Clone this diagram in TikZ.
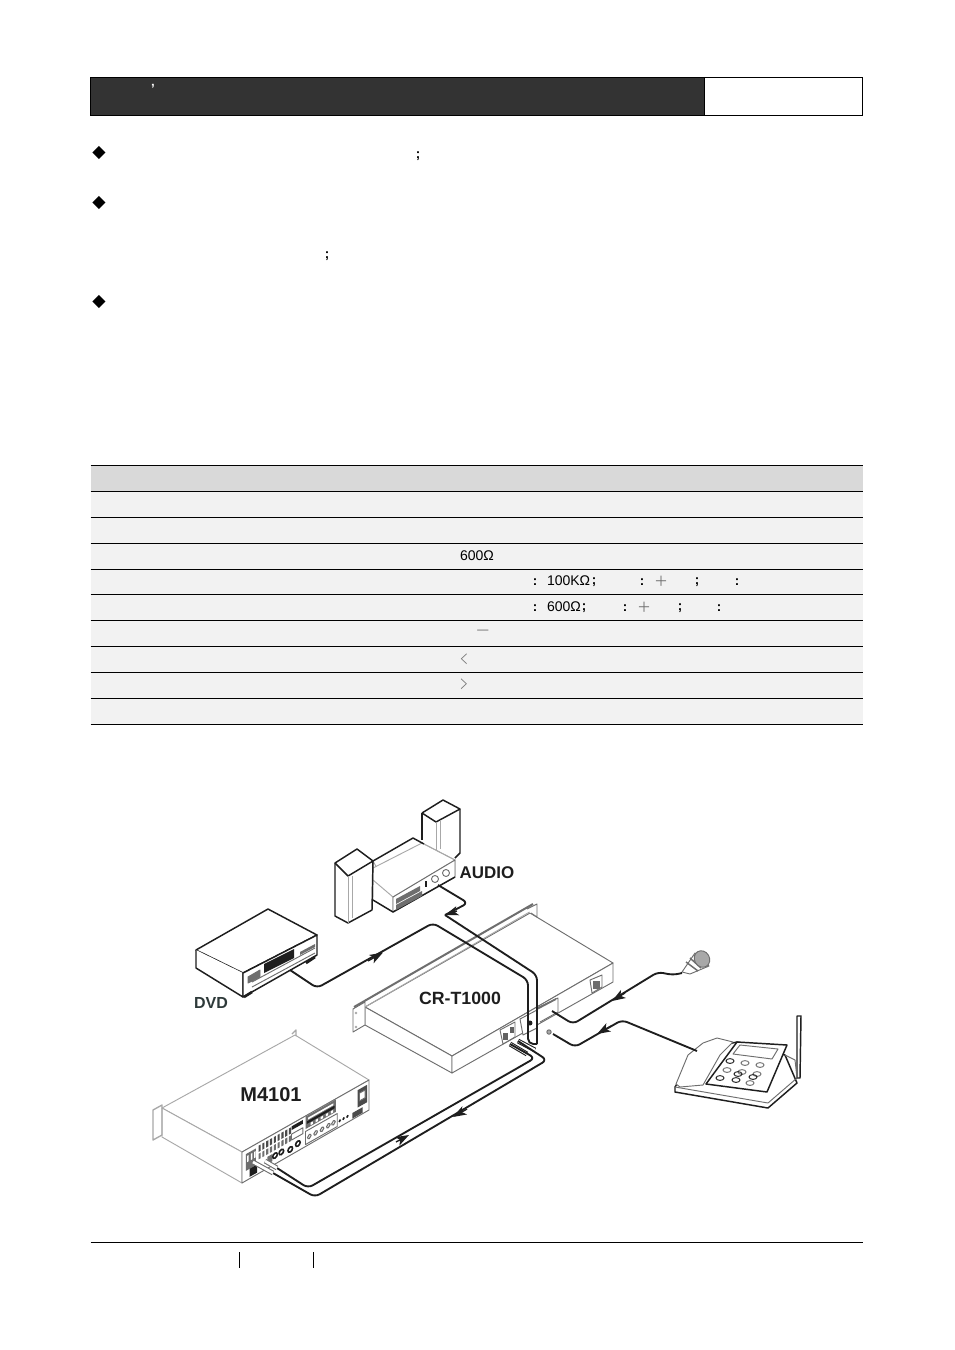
\documentclass[tikz,border=0pt]{standalone}
\usepackage{fontspec}
\setmainfont{Liberation Sans}
\newfontfamily\cjkf{Noto Sans CJK SC}[Scale=1]
\newfontfamily\djv{DejaVu Sans}
\usetikzlibrary{arrows.meta}
\definecolor{hdr}{HTML}{333333}
\definecolor{rowg}{HTML}{F2F2F2}
\definecolor{headg}{HTML}{D9D9D9}
\definecolor{ink}{HTML}{1E1E1E}
\definecolor{edgeg}{HTML}{A8A8A8}
\definecolor{midg}{HTML}{6E6E6E}
\definecolor{lblg}{HTML}{2E3A3A}
\tikzset{
 txt/.style={inner sep=0pt,outer sep=0pt,font=\fontsize{10.5pt}{12pt}\selectfont,text=black},
 punct/.style={inner sep=0pt,outer sep=0pt,font=\bfseries\fontsize{10pt}{12pt}\selectfont,text=black},
 thin glyph/.style={inner sep=0pt,outer sep=0pt,font=\cjkf\fontsize{10.5pt}{12pt}\selectfont,text=midg},
 bullet/.style={inner sep=0pt,outer sep=0pt,font=\djv\fontsize{13pt}{14pt}\selectfont},
 rule/.style={line width=.75pt,draw=black},
 cable/.style={line width=1.4pt,draw=ink,rounded corners=4pt,line join=round},
 tip/.style={line width=1pt,draw=ink,-{Stealth[length=10pt,width=7pt,inset=2.5pt]}},
 devline/.style={line width=1.1pt,draw=ink,line join=round},
 greyline/.style={line width=.7pt,draw=midg,line join=round},
 paleline/.style={line width=.7pt,draw=edgeg,line join=round},
 lbl/.style={inner sep=0pt,outer sep=0pt,text=ink,font=\bfseries\fontsize{12.7pt}{14pt}\selectfont},
}
\begin{document}
\begin{tikzpicture}[x=.75pt,y=-.75pt]
\useasboundingbox (0,0) rectangle (954,1350);
\fill[white] (0,0) rectangle (954,1350);

% header
\draw[rule,fill=hdr] (90.5,77.5) rectangle (704.5,115.5);
\draw[rule,fill=white] (704.5,77.5) rectangle (862.5,115.5);
\node[punct,text=white] (hq) at (153,89) {’};

% bullets and stray punctuation
\node[bullet] (b1) at (99,153) {◆};
\node[bullet] (b2) at (99,203) {◆};
\node[bullet] (b3) at (99,302) {◆};
\node[punct] (s1) at (418,156) {;};
\node[punct] (s2) at (327,256.5) {;};

% table
\fill[headg] (90.5,465.5) rectangle (862.5,491.5);
\fill[rowg] (90.5,491.5) rectangle (862.5,724.5);
\foreach \yy in {465.5,491.5,517.5,543.5,569.5,594.5,620.5,646.5,672.5,698.5,724.5}
  \draw[rule] (90.5,\yy) -- (862.5,\yy);

\node[txt,anchor=west] (r3a) at (460,556) {600Ω};
\node[punct] (r4a) at (535,582) {:};
\node[txt,anchor=west] (r4b) at (547,581) {100KΩ};
\node[punct] (r4c) at (594,582) {;};
\node[punct] (r4d) at (642,582) {:};
\node[thin glyph] (r4e) at (661,581) {＋};
\node[punct] (r4f) at (697,582) {;};
\node[punct] (r4g) at (737,582) {:};
\node[punct] (r5a) at (535,608) {:};
\node[txt,anchor=west] (r5b) at (547,607) {600Ω};
\node[punct] (r5c) at (584,608) {;};
\node[punct] (r5d) at (625,608) {:};
\node[thin glyph] (r5e) at (644,607) {＋};
\node[punct] (r5f) at (680,608) {;};
\node[punct] (r5g) at (719,608) {:};
\node[thin glyph] (r6a) at (483,632) {—};
\node[thin glyph,xscale=.55] (r7a) at (464,659) {＜};
\node[thin glyph,xscale=.55] (r8a) at (464,684) {＞};

% footer
\draw[rule] (90.5,1242.5) -- (862.5,1242.5);
\draw[rule] (239.5,1252) -- (239.5,1268);
\draw[rule] (313.5,1252) -- (313.5,1268);

% ===== speakers + amplifier =====
\draw[paleline,fill=white] (373,861) -- (393,897) -- (393,912) -- (373,900) -- cycle;
\draw[paleline,fill=white] (373,880) -- (393,897) -- (455,860) -- (422,843) -- (373,868) -- cycle;
\draw[devline] (373,861) -- (413,838) -- (424,844);
\draw[paleline] (424,844) -- (455,860) -- (455,877);
\draw[greyline,fill=white] (393,897) -- (455,860) -- (455,877) -- (393,912) -- cycle;
\draw[devline] (373,900) -- (393,912) -- (455,877);
\fill[midg] (396,899) -- (420,886) -- (420,891) -- (396,904) -- cycle;
\fill[midg] (396,905) -- (422,891) -- (422,896) -- (396,910) -- cycle;
\draw[ink,line width=1pt] (426,881) -- (426,887);
\draw[greyline] (435,879) circle[radius=3.5];
\draw[greyline] (446,873) circle[radius=3.5];
% left speaker
\draw[devline,fill=white] (335,863) -- (357,849) -- (373,861) -- (372,910) -- (348,923) -- (335,916) -- cycle;
\draw[devline] (335,863) -- (348,876) -- (373,861);
\draw[paleline] (348,876) -- (348,923);
\draw[paleline] (352,876) -- (352,918);
% right speaker
\draw[devline,fill=white] (422,813) -- (443,800) -- (460,809) -- (460,853) -- (455,858);
\draw[devline] (422,813) -- (422,840);
\draw[devline] (422,813) -- (436,822) -- (460,809);
\draw[paleline] (436,822) -- (436,851);
\draw[paleline] (440,820) -- (440,849);
\node[lbl] (audio) at (487,873) {AUDIO};

% ===== DVD =====
\draw[devline,fill=white] (196,950) -- (268,909) -- (317,935) -- (243,973) -- cycle;
\draw[devline,fill=white] (196,950) -- (196,968) -- (243,997) -- (243,973);
\draw[devline,fill=white] (243,973) -- (317,935) -- (317,955) -- (243,997) -- cycle;
\fill[ink] (264,964) -- (294,949) -- (294,958) -- (264,973) -- cycle;
\draw[greyline] (252,987) -- (315,953);
\draw[greyline] (252,982) -- (315,948);
\draw[greyline,fill=midg] (248,977) -- (260,970) -- (260,977) -- (248,983) -- cycle;
\fill[midg] (300,952) -- (315,944) -- (315,947) -- (300,955) -- cycle;
\draw[ink,line width=2pt] (244,997) -- (252,992);
\draw[ink,line width=2pt] (306,963) -- (315,957);
\node[lbl,text=lblg,font=\bfseries\fontsize{12pt}{14pt}\selectfont] (dvd) at (211,1003) {DVD};

% ===== CR-T1000 =====
\draw[greyline,fill=white] (365,1007) -- (530,913) -- (613,963) -- (452,1056) -- cycle;
\draw[greyline,fill=white] (365,1007) -- (365,1025) -- (452,1073) -- (452,1056) -- cycle;
\draw[greyline,fill=white] (452,1056) -- (613,963) -- (613,982) -- (452,1073) -- cycle;
\draw[greyline,fill=white] (353,1009) -- (365,1002) -- (365,1025) -- (353,1032) -- cycle;
\draw[line width=1.5pt,draw=midg] (354,1007) -- (533,904);
\draw[paleline] (365,1007) -- (533,910);
\draw[greyline,fill=white] (527,909) -- (537,904) -- (537,917) -- (531,913);
\fill[edgeg] (356,1013) circle[radius=1.3];
\fill[edgeg] (356,1027) circle[radius=1.3];
% mains socket
\draw[greyline,fill=white] (590,980) -- (602,975) -- (602,987) -- (592,993) -- cycle;
\fill[midg] (593,981) rectangle (600,989);
% rear sockets
\draw[greyline,fill=white] (537,1008) -- (558,998) -- (558,1012) -- (540,1022);
\fill[midg] (537,1008) -- (556,998) -- (556,1000) -- (537,1010) -- cycle;
\draw[greyline,fill=white] (520,1019) -- (537,1010) -- (537,1028) -- (523,1035) -- cycle;
\fill[ink] (530,1023) circle[radius=2.5];
\draw[greyline,fill=white] (500,1030) -- (515,1022) -- (515,1037) -- (503,1044) -- cycle;
\fill[ink!70] (503,1033) rectangle (508,1040);
\fill[ink!70] (510,1027) rectangle (514,1033);
\node[lbl,font=\bfseries\fontsize{13.3pt}{15pt}\selectfont] (crt) at (460,998) {CR-T1000};

% ===== M4101 =====
\draw[paleline,fill=white] (162,1108) -- (295,1035) -- (369,1080) -- (242,1152) -- cycle;
\draw[paleline,fill=white] (162,1108) -- (162,1137) -- (242,1183) -- (242,1152) -- cycle;
\draw[paleline,line width=1pt] (153,1110) -- (162,1105) -- (162,1135) -- (153,1140) -- cycle;
\draw[paleline,line width=1pt] (292,1034) -- (296,1030) -- (296,1036);
\draw[greyline,fill=white] (242,1152) -- (369,1080) -- (369,1110) -- (242,1183) -- cycle;
\begin{scope}[cm={95.25,54,0,-23.25,(242,1152)},x=1pt,y=1pt]
 % left connector block
 \fill[midg] (.03,.14) rectangle (.11,.68);
 \foreach \ss in {.04,.07,.095}{ \fill[white] (\ss,.22) rectangle ++(.012,.2); }
 \fill[ink] (.06,.68) rectangle (.12,.94);
 % screw terminal row
 \foreach \ss in {.13,.16,.19,.22,.25,.28,.31,.34,.37}{
   \fill[ink!80] (\ss,.1) rectangle ++(.017,.2);
   \fill[midg] (\ss,.36) rectangle ++(.017,.18);
 }
 % jacks
 \fill[midg] (.2,.62) rectangle (.24,.85);
 \foreach \ss/\tt in {.26/.72,.31/.72,.38/.8,.44/.75}{
   \draw[ink,line width=1.2pt,fill=white] (\ss,\tt) ellipse[x radius=.018,y radius=.08];
 }
 \draw[greyline,fill=white] (.39,.33) rectangle (.48,.52);
 \fill[ink] (.39,.08) rectangle (.48,.2);
 % terminal block
 \fill[midg] (.5,.02) rectangle (.74,.42);
 \fill[white] (.52,.1) rectangle (.72,.16);
 \fill[ink] (.51,.2) rectangle (.73,.28);
 \foreach \ss in {.54,.58,.62,.66,.7}{ \fill[white] (\ss,.31) rectangle ++(.018,.08); }
 % knobs
 \draw[greyline] (.5,.5) rectangle (.75,.92);
 \foreach \ss in {.53,.58,.63,.68,.72}{
   \draw[midg,line width=.8pt] (\ss,.73) ellipse[x radius=.014,y radius=.065];
 }
 \foreach \ss in {.77,.8,.83}{ \fill[ink] (\ss,.78) ellipse[x radius=.011,y radius=.05]; }
 \fill[ink!80] (.87,.76) rectangle (.95,.94);
 % socket
 \fill[ink!80] (.91,.12) rectangle (.985,.68);
 \draw[greyline,fill=white] (.925,.25) rectangle (.97,.5);
\end{scope}
\node[lbl,font=\bfseries\fontsize{15pt}{17pt}\selectfont] (mfb) at (271,1095) {M4101};

% ===== microphone =====
\draw[greyline,fill=white] (695,953) -- (709,966) -- (690,974) -- (682,972) -- cycle;
\draw[midg,line width=1.1pt] (686,962) -- (698,971);
\draw[midg,line width=1.1pt] (690,958) -- (701,968);
\draw[midg,line width=1.1pt] (694,955) -- (705,965);
\draw[line width=.7pt,draw=midg,fill=edgeg] (702,959) ellipse[x radius=7.5,y radius=8.5,rotate=30];

% ===== telephone =====
\draw[devline,fill=white] (675,1087) -- (675,1092) -- (768,1108) -- (797,1083) -- (785,1055) -- (737,1042) -- (700,1050) -- cycle;
\draw[greyline] (675,1087) -- (768,1103) -- (797,1078);
\draw[greyline,fill=white] (703,1043) -- (717,1038) -- (733,1042) -- (720,1055) -- (703,1085) -- (680,1087) -- (676,1084) -- (688,1055) -- cycle;
\draw[devline,fill=white] (737,1042) -- (787,1045) -- (767,1092) -- (706,1084) -- cycle;
\draw[greyline,fill=white] (740,1045) -- (778,1049) -- (772,1059) -- (733,1054) -- cycle;
\foreach \bx/\by/\bc in {730/1061/ink,745/1063/midg,760/1065/midg,727/1070/midg,742/1072/midg,757/1074/midg,720/1078/ink,736/1080/ink,753/1077/ink,750/1083/midg,738/1074/ink}
  \draw[\bc,line width=.7pt] (\bx,\by) ellipse[x radius=4,y radius=2.4];
\draw[devline,fill=white] (797,1016) -- (801,1016) -- (800,1078) -- (797,1078) -- cycle;
\draw[greyline] (785,1055) -- (795,1060) -- (797,1078);

% ===== cable end points =====
\coordinate (dvdOut) at (290,970);
\coordinate (dvdA) at (317,988);
\coordinate (dvdB) at (433,923);
\coordinate (dvdC) at (528,980);
\coordinate (dvdD) at (528,1044);
\coordinate (audIn) at (438,885);
\coordinate (audA) at (468,903);
\coordinate (audB) at (445,915);
\coordinate (audC) at (537,975);
\coordinate (audD) at (537,1044);
\coordinate (micOut) at (682,973);
\coordinate (micA) at (673,975);
\coordinate (micB) at (658,972);
\coordinate (micC) at (573,1024);
\coordinate (micD) at (552,1011);
\coordinate (telOut) at (697,1051);
\coordinate (telA) at (622,1020);
\coordinate (telB) at (575,1047);
\coordinate (telC) at (553,1034);
\coordinate (mA) at (510,1044);
\coordinate (mB) at (535,1058);
\coordinate (mC) at (308,1188);
\coordinate (mD) at (277,1168);
\coordinate (mE) at (265,1161);
\coordinate (nA) at (518,1041);
\coordinate (nB) at (547,1060);
\coordinate (nC) at (315,1197);
\coordinate (nD) at (273,1173);
\coordinate (nE) at (253,1162);

% plug sleeves
\draw[line width=3.6pt,draw=ink] (mA) -- (527,1054);
\draw[line width=2pt,draw=white] (mA) -- (527,1054);
\draw[line width=3.6pt,draw=ink] (nA) -- (535,1050);
\draw[line width=2pt,draw=white] (nA) -- (535,1050);

% cables
\draw[cable] (dvdOut) -- (dvdA) -- (dvdB) -- (dvdC) -- (dvdD) -- (audD);
\draw[cable] (audIn) -- (audA) -- (audB);
\draw[cable] (audB) -- (audC) -- (audD);
\draw[cable] (micOut) -- (micA) -- (micB) -- (micC) -- (micD);
\draw[cable] (telOut) -- (telA) -- (telB) -- (telC);
\draw[cable] (mA) -- (mB) -- (mC) -- (mD);
\draw[cable] (nA) -- (nB) -- (nC) -- (nD);
\draw[line width=3.6pt,draw=midg] (mD) -- (mE);
\draw[line width=2pt,draw=white] (mD) -- (mE);
\draw[line width=3.6pt,draw=midg] (nD) -- (nE);
\draw[line width=2pt,draw=white] (nD) -- (nE);
\draw[greyline,fill=edgeg] (549,1032) circle[radius=2.2];

% arrowheads on cables
\coordinate (t1a) at (368,961); \coordinate (t1b) at (383,952.5);
\coordinate (t2a) at (457,911); \coordinate (t2b) at (445,915);
\coordinate (t3a) at (396,1142); \coordinate (t3b) at (409,1135);
\coordinate (t4a) at (467,1109); \coordinate (t4b) at (453,1117);
\coordinate (t5a) at (625,993); \coordinate (t5b) at (612,1001);
\coordinate (t6a) at (611,1026); \coordinate (t6b) at (597,1034);
\draw[tip] (t1a) -- (t1b);
\draw[tip] (t2a) -- (t2b);
\draw[tip] (t3a) -- (t3b);
\draw[tip] (t4a) -- (t4b);
\draw[tip] (t5a) -- (t5b);
\draw[tip] (t6a) -- (t6b);
\end{tikzpicture}
\end{document}
